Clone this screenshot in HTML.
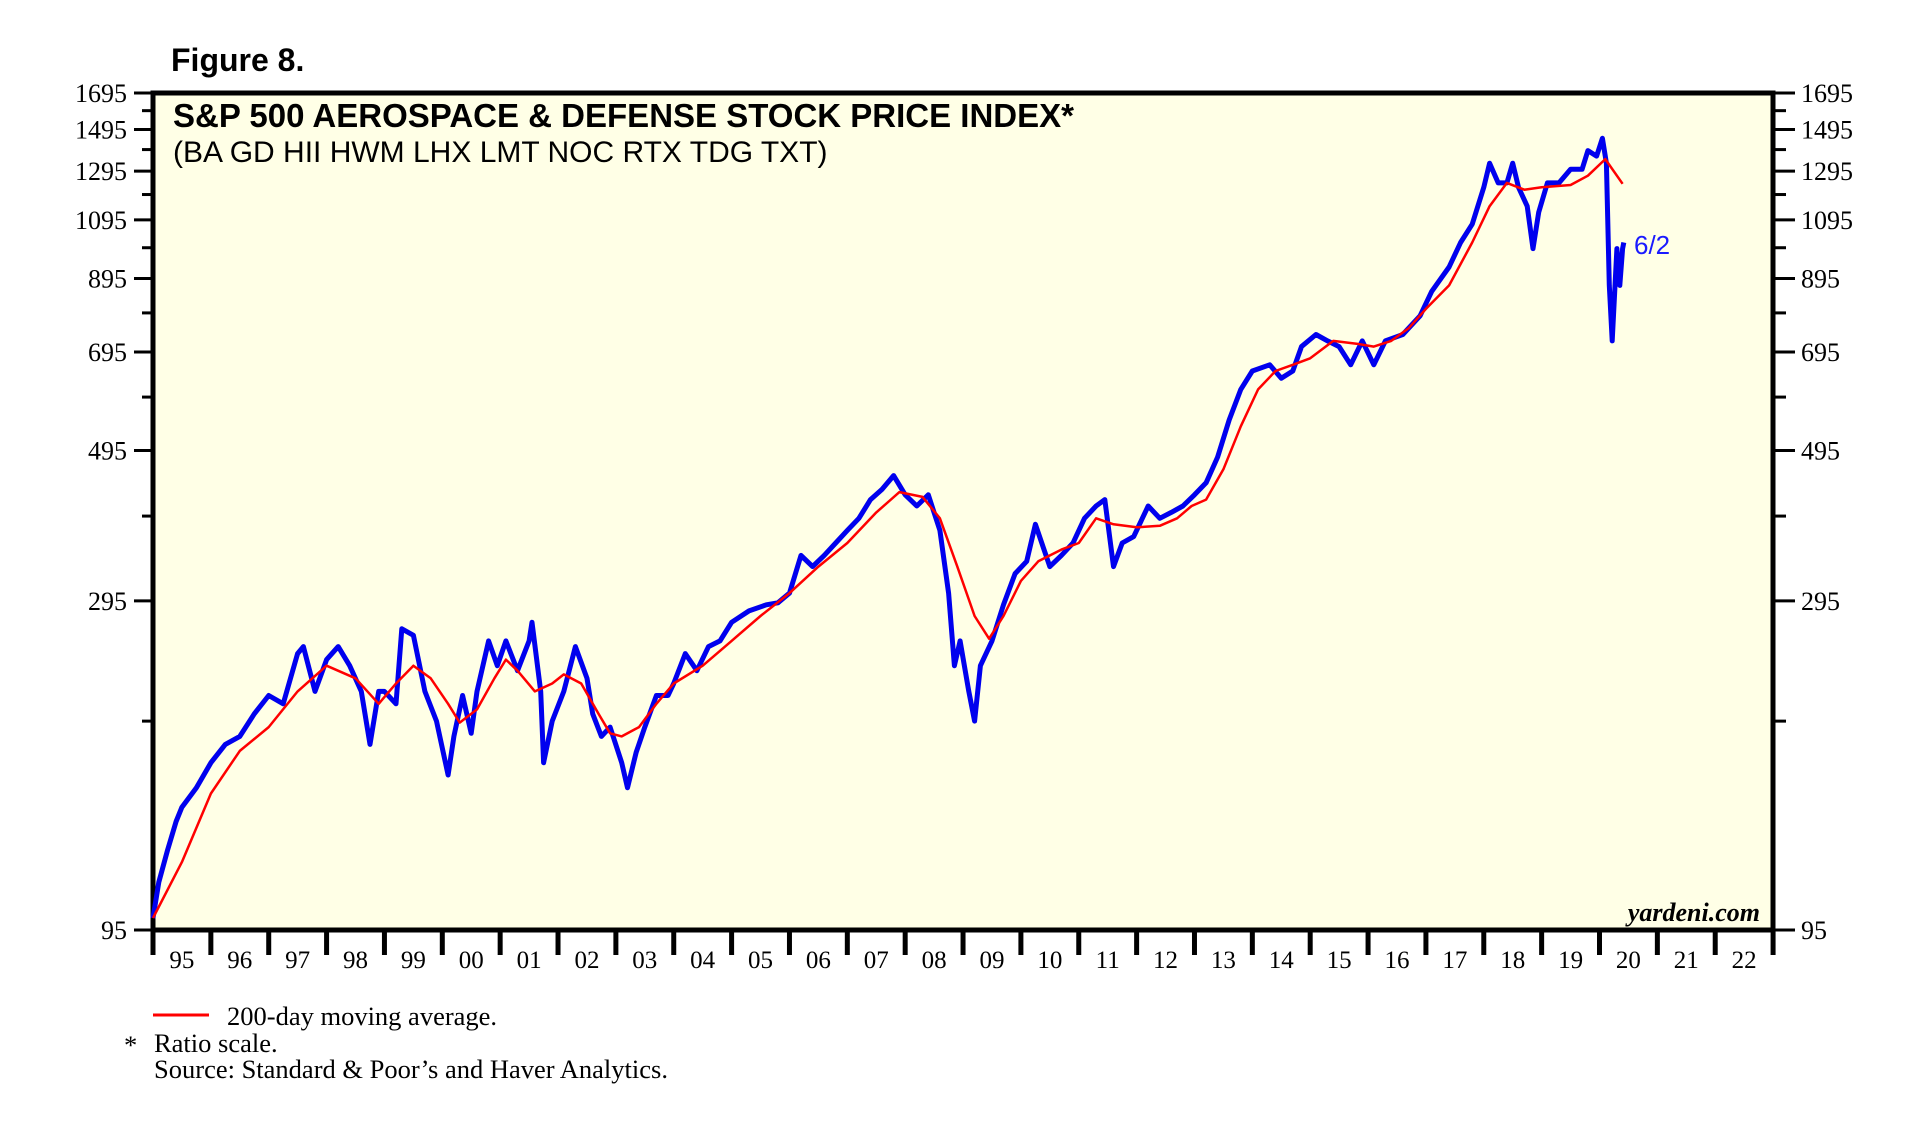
<!DOCTYPE html>
<html><head><meta charset="utf-8"><style>
html,body{margin:0;padding:0;background:#fff;}
svg{display:block;}
</style></head><body>
<svg id="chart" width="1931" height="1127" xmlns="http://www.w3.org/2000/svg">
<text x="171" y="71" font-family="Liberation Sans, sans-serif" font-weight="bold" font-size="32">Figure 8.</text>
<rect x="153" y="93" width="1620" height="837" fill="#FFFFE6" stroke="#000" stroke-width="5"/>
<text x="173" y="127" font-family="Liberation Sans, sans-serif" font-weight="bold" font-size="33">S&amp;P 500 AEROSPACE &amp; DEFENSE STOCK PRICE INDEX*</text>
<text x="173" y="162" font-family="Liberation Sans, sans-serif" font-size="30">(BA GD HII HWM LHX LMT NOC RTX TDG TXT)</text>
<g id="axes"></g>
<g id="series"></g>
<text x="1634" y="254" font-family="Liberation Sans, sans-serif" font-size="26" fill="#1a1aff">6/2</text>
<text x="1760" y="921" text-anchor="end" font-family="Liberation Serif, serif" font-weight="bold" font-style="italic" font-size="26">yardeni.com</text>
<line x1="153" y1="1015" x2="209" y2="1015" stroke="#f00" stroke-width="3"/>
<text x="227" y="1025" font-family="Liberation Serif, serif" font-size="26.5">200-day moving average.</text>
<text x="124" y="1054" font-family="Liberation Serif, serif" font-size="26.5">*</text>
<text x="154" y="1052" font-family="Liberation Serif, serif" font-size="26.5">Ratio scale.</text>
<text x="154" y="1078" font-family="Liberation Serif, serif" font-size="26.5">Source: Standard &amp; Poor’s and Haver Analytics.</text>
</svg>
<script>
const yTicks = [95, 295, 495, 695, 895, 1095, 1295, 1495, 1695];
const yearLabels = ["95","96","97","98","99","00","01","02","03","04","05","06","07","08","09","10","11","12","13","14","15","16","17","18","19","20","21","22"];
const blueT = [1995.0,1995.1,1995.25,1995.4,1995.5,1995.75,1996.0,1996.25,1996.5,1996.75,1997.0,1997.25,1997.5,1997.6,1997.8,1998.0,1998.2,1998.4,1998.6,1998.75,1998.9,1999.0,1999.2,1999.3,1999.5,1999.7,1999.9,2000.1,2000.2,2000.35,2000.5,2000.6,2000.8,2000.95,2001.1,2001.3,2001.5,2001.55,2001.7,2001.75,2001.9,2002.1,2002.3,2002.5,2002.6,2002.75,2002.9,2003.1,2003.2,2003.35,2003.5,2003.7,2003.9,2004.0,2004.2,2004.4,2004.6,2004.8,2005.0,2005.3,2005.6,2005.8,2006.0,2006.2,2006.4,2006.6,2006.8,2007.0,2007.2,2007.4,2007.6,2007.8,2008.0,2008.2,2008.4,2008.6,2008.75,2008.85,2008.95,2009.1,2009.2,2009.3,2009.5,2009.7,2009.9,2010.1,2010.25,2010.5,2010.7,2010.9,2011.1,2011.3,2011.45,2011.6,2011.75,2011.95,2012.2,2012.4,2012.6,2012.8,2013.0,2013.2,2013.4,2013.6,2013.8,2014.0,2014.3,2014.5,2014.7,2014.85,2015.1,2015.3,2015.5,2015.7,2015.9,2016.1,2016.3,2016.6,2016.9,2017.1,2017.4,2017.6,2017.8,2018.0,2018.1,2018.25,2018.4,2018.5,2018.6,2018.75,2018.85,2018.95,2019.1,2019.3,2019.5,2019.7,2019.8,2019.95,2020.05,2020.12,2020.17,2020.22,2020.3,2020.35,2020.4,2020.42];
const blueV = [99,112,125,138,145,155,169,180,185,200,213,207,246,252,216,241,252,236,216,180,216,216,207,268,262,216,195,162,185,213,187,216,257,236,257,232,257,274,216,169,195,216,252,226,200,185,191,169,155,175,191,213,213,222,246,232,252,257,274,285,291,293,303,345,332,345,360,376,392,418,433,454,425,409,425,376,303,236,257,216,195,236,257,291,324,338,384,332,345,360,392,409,418,332,360,368,409,392,400,409,425,443,484,550,611,651,665,635,651,708,738,722,708,665,722,665,722,738,787,856,931,1013,1079,1225,1331,1244,1244,1331,1225,1148,992,1124,1244,1244,1304,1304,1390,1364,1450,1331,874,722,992,874,992,1013];
const maT = [1995.0,1995.5,1996.0,1996.5,1997.0,1997.5,1998.0,1998.5,1998.9,1999.2,1999.5,1999.8,2000.1,2000.3,2000.6,2000.9,2001.1,2001.3,2001.6,2001.9,2002.1,2002.4,2002.7,2002.9,2003.1,2003.4,2003.7,2004.0,2004.5,2005.0,2005.5,2006.0,2006.5,2007.0,2007.5,2007.9,2008.3,2008.6,2008.9,2009.2,2009.45,2009.7,2010.0,2010.3,2010.7,2011.0,2011.3,2011.6,2012.0,2012.4,2012.7,2012.95,2013.2,2013.5,2013.8,2014.1,2014.4,2014.7,2015.0,2015.4,2015.8,2016.1,2016.4,2016.7,2017.0,2017.4,2017.8,2018.1,2018.4,2018.7,2019.0,2019.5,2019.8,2020.1,2020.4];
const maV = [99,120,152,176,191,216,236,226,207,222,236,226,207,194,203,226,241,232,216,222,229,222,200,187,185,191,207,222,236,257,280,303,332,360,400,429,422,392,332,280,259,280,316,338,352,360,392,384,380,382,392,409,418,464,538,611,651,665,680,722,715,708,722,754,806,874,1013,1148,1244,1215,1225,1235,1275,1350,1240];

const NS = "http://www.w3.org/2000/svg";
const X0 = 153, YEARW = 57.86, YB = 930, YT = 93;
const K = (YB - YT) / Math.log(1695 / 95);
function xScale(t){ return X0 + (t - 1995) * YEARW; }
function yScale(v){ return YB - Math.log(v / 95) * K; }
function mk(tag, attrs, parent){ const e = document.createElementNS(NS, tag); for (const k in attrs) e.setAttribute(k, attrs[k]); parent.appendChild(e); return e; }
const axes = document.getElementById('axes');
const series = document.getElementById('series');

for (let v = 95; v <= 1695; v += 100) {
  const y = yScale(v);
  const major = yTicks.includes(v);
  const l1 = mk('line', {x1: major ? 134 : 142, y1: y, x2: 152, y2: y, stroke: '#000', 'stroke-width': 3}, axes);
  
  
  const l2 = mk('line', {x1: 1775, y1: y, x2: major ? 1795 : 1786, y2: y, stroke: '#000', 'stroke-width': 3}, axes);
  
  
}
yTicks.forEach(v => {
  const y = yScale(v);
  const t1 = mk('text', {x: 127, y: y + 9, 'text-anchor': 'end', 'font-family': 'Liberation Serif, serif', 'font-size': 26}, axes);
  t1.textContent = v;
  
  
  const t2 = mk('text', {x: 1801, y: y + 9, 'font-family': 'Liberation Serif, serif', 'font-size': 26}, axes);
  t2.textContent = v;
  
  
});
for (let i = 0; i <= yearLabels.length; i++) {
  const x = xScale(1995 + i);
  const tk = mk('line', {x1: x, y1: 930, x2: x, y2: 955, stroke: '#000', 'stroke-width': 5}, axes);
  
  
}
yearLabels.forEach((lab, i) => {
  const t = mk('text', {x: xScale(1995.5 + i), y: 968, 'text-anchor': 'middle', 'font-family': 'Liberation Serif, serif', 'font-size': 25}, axes);
  t.textContent = lab;
  
  
});

function pathFrom(ts, vs){ return ts.map((t, i) => (i ? 'L' : 'M') + xScale(t).toFixed(1) + ',' + yScale(vs[i]).toFixed(1)).join(''); }
const bl = mk('path', {d: pathFrom(blueT, blueV), fill: 'none', stroke: '#0000ee', 'stroke-width': 5, 'stroke-linejoin': 'round'}, series);


const rl = mk('path', {d: pathFrom(maT, maV), fill: 'none', stroke: '#ff0000', 'stroke-width': 2.5, 'stroke-linejoin': 'round'}, series);


</script>
</body></html>
